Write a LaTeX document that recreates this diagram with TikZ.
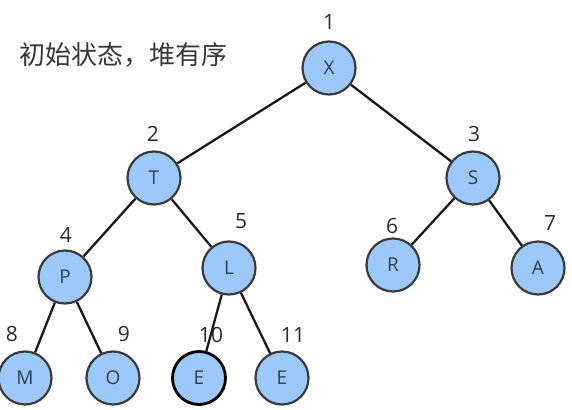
\documentclass[tikz,border=0pt]{standalone}
\usepackage{fontspec}
\setmainfont{Open Sans}
\newfontfamily\cjk{Noto Sans CJK SC}
\definecolor{nodefill}{HTML}{9DC8FA}
\definecolor{nodeline}{HTML}{3A3A3A}
\definecolor{lettercol}{HTML}{2E3F52}
\definecolor{numcol}{HTML}{2A2A2A}
\begin{document}
\begin{tikzpicture}[x=1pt,y=-1pt,
  hnode/.style={circle,draw=nodeline,line width=2.2pt,fill=nodefill,minimum size=53pt,inner sep=0pt,
    font=\fontsize{19}{19}\selectfont,text=lettercol},
  idx/.style={font=\fontsize{21}{21}\selectfont,text=numcol,inner sep=0pt},
  edge/.style={line width=2.3pt,draw=black!90}]
\useasboundingbox (0,0) rectangle (572,409);
\node[anchor=west,font=\cjk\fontsize{26}{26}\selectfont,text=black!78,inner sep=0pt] (title) at (19,55) {初始状态，堆有序};
\node[hnode] (n1) at (329,68) {X};
\node[hnode] (n2) at (154,178) {T};
\node[hnode] (n3) at (473,178) {S};
\node[hnode] (n4) at (65,277) {P};
\node[hnode] (n5) at (229,268) {L};
\node[hnode] (n6) at (393,265) {R};
\node[hnode] (n7) at (538,268) {A};
\node[hnode] (n8) at (25,378) {M};
\node[hnode] (n9) at (113,378) {O};
\node[hnode,draw=black,line width=2.8pt] (n10) at (199,378) {E};
\node[hnode] (n11) at (282,378) {E};
\node[idx] (l1) at (329,22) {1};
\node[idx] (l2) at (153,134) {2};
\node[idx] (l3) at (474,134) {3};
\node[idx] (l4) at (66,235) {4};
\node[idx] (l5) at (241,221) {5};
\node[idx] (l6) at (392,226) {6};
\node[idx] (l7) at (550,223) {7};
\node[idx] (l8) at (12,334) {8};
\node[idx] (l9) at (124,334) {9};
\node[idx] (l10) at (211,335) {10};
\node[idx] (l11) at (293,335) {11};
\draw[edge] (n1) -- (n2);
\draw[edge] (n1) -- (n3);
\draw[edge] (n2) -- (n4);
\draw[edge] (n2) -- (n5);
\draw[edge] (n3) -- (n6);
\draw[edge] (n3) -- (n7);
\draw[edge] (n4) -- (n8);
\draw[edge] (n4) -- (n9);
\draw[edge] (n5) -- (n10);
\draw[edge] (n5) -- (n11);
\end{tikzpicture}
\end{document}
